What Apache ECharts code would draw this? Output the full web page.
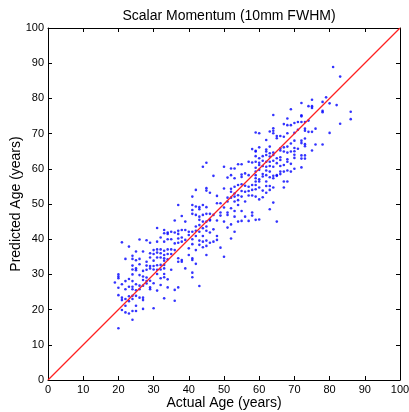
<!DOCTYPE html>
<html>
<head>
<meta charset="utf-8">
<script src="https://cdn.jsdelivr.net/npm/echarts@6/dist/echarts.min.js"></script>
<style>
  html, body { margin: 0; padding: 0; background: #fff; }
  #chart { width: 409px; height: 412px; }
</style>
</head>
<body>
<div id="chart"></div>
<script>
// [actual age, predicted age], grouped by actual age
const ages19to28 = [[21,39.1],[23,37.9],[26,39.9],[28,39.7],[25,36.5],[27,36.5],[24,35.3],[22,34.4],[24,34.4],[25,34.0],
    [26,34.4],[28,33.6],[24,32.5],[25,31.7],[26,32.9],[28,32.5],[24,31.4],[25,31.2],[27,31.0],[28,31.3],[20,30.0],[20,29.4],
    [20,28.9],[24,30.0],[26,29.8],[27,29.4],[28,29.1],[22,28.1],[23,28.7],[24,28.1],[25,27.2],[27,28.4],[28,28.1],[19,27.7],
    [21,27.2],[23,26.5],[24,26.5],[26,26.8],[27,26.8],[28,27.4],[20,26.2],[22,25.8],[24,25.8],[25,25.5],[26,25.8],[20,24.1],
    [21,23.4],[22,23.0],[23,23.8],[24,23.9],[25,23.9],[26,23.4],[27,23.4],[27,22.7],[21,22.7],[23,22.4],[24,23.0],[22,21.1],
    [25,21.1],[21,19.9],[22,19.2],[23,18.9],[24,19.6],[25,19.6],[27,20.2],[24,17.1],[20,14.7]];
const ages29to38 = [[37,49.7],[38,46.6],[36,45.3],[31,43.2],[33,42.6],[34,41.9],[35,42.1],[36,41.9],[37,42.4],[38,42.6],
    [33,41.7],[34,41.5],[37,41.5],[32,40.5],[34,40.0],[35,40.0],[37,40.2],[38,40.5],[29,39.0],[31,39.3],[33,39.3],[36,38.8],
    [37,39.0],[38,39.3],[30,36.9],[31,37.1],[32,37.1],[33,36.7],[34,37.1],[35,37.1],[36,36.9],[29,36.0],[30,35.8],[31,36.2],
    [32,36.0],[33,35.5],[34,35.8],[35,35.8],[29,34.8],[31,34.8],[32,34.8],[33,34.6],[34,34.3],[30,33.9],[33,33.9],[37,34.6],
    [38,34.1],[37,33.6],[38,33.6],[29,32.4],[30,32.4],[31,32.6],[32,32.7],[33,32.7],[29,31.7],[30,31.4],[31,31.3],[32,31.4],
    [33,31.7],[35,31.3],[31,30.1],[33,30.1],[32,28.9],[33,29.2],[34,28.6],[29,28.2],[30,27.5],[29,26.3],[29,25.8],[32,27.0],
    [31,25.4],[36,25.6],[37,26.3],[34,26.3],[33,23.2],[36,22.5],[30,20.4]];
const ages39to48 = [[45,61.7],[44,60.6],[47,58.0],[42,54.0],[45,54.5],[45,53.8],[46,53.2],[41,52.1],[48,52.3],[41,49.7],
    [42,49.3],[43,49.1],[43,48.5],[44,49.7],[45,49.1],[48,50.2],[41,48.3],[41,47.2],[42,46.9],[43,46.4],[44,46.9],[45,47.2],
    [46,47.2],[47,46.9],[39,45.0],[43,45.5],[44,45.0],[45,45.0],[46,45.6],[46,45.3],[48,45.3],[43,44.0],[45,43.6],[42,43.6],
    [44,43.1],[47,42.8],[39,42.6],[40,42.1],[41,42.1],[42,42.4],[43,42.1],[45,42.4],[46,41.9],[40,41.2],[42,40.9],[44,40.9],
    [48,40.9],[39,39.8],[41,40.0],[43,39.6],[44,39.3],[45,39.6],[46,39.0],[47,39.3],[48,39.8],[41,38.6],[43,38.4],[44,37.7],
    [45,38.1],[40,37.4],[42,36.9],[40,35.5],[41,34.6],[41,34.1],[45,35.5],[42,33.0],[39,31.7],[41,30.5],[41,29.2],[43,26.7]];
const ages49to59 = [[58,65.6],[59,65.1],[57,62.0],[58,61.8],[50,60.6],[52,60.1],[53,60.1],[54,61.3],[55,61.3],[51,57.5],
    [52,58.2],[53,57.3],[55,58.4],[55,57.7],[56,58.7],[57,58.2],[50,54.4],[52,54.3],[53,54.9],[54,55.4],[55,55.6],[56,55.2],
    [57,54.9],[58,55.4],[52,53.5],[53,53.0],[54,52.5],[55,53.7],[56,53.5],[57,53.7],[58,54.0],[51,51.8],[52,51.8],[53,52.1],
    [54,51.1],[55,52.1],[56,50.7],[57,52.4],[58,52.4],[49,50.2],[51,50.7],[53,50.7],[54,49.7],[50,49.0],[52,48.8],[49,47.6],
    [51,47.6],[53,48.0],[55,48.0],[58,47.6],[49,46.7],[51,46.9],[53,46.4],[56,46.4],[58,46.7],[57,45.2],[50,45.0],[52,44.2],
    [54,45.0],[55,45.2],[51,43.3],[53,42.1],[52,40.2],[49,37.6],[50,35.0],[59,60.3],[59,58.2],[59,52.1]];
const ages59to69 = [[69,76.9],[64,75.3],[68,74.3],[67,72.7],[68,72.4],[69,72.4],[64,71.5],[59,70.3],[60,70.1],[63,70.6],
    [64,70.8],[64,70.1],[65,69.3],[65,68.7],[66,69.3],[67,69.1],[68,70.1],[62,68.2],[60,66.1],[62,65.5],[63,66.3],[66,65.8],
    [67,66.1],[68,66.3],[69,67.2],[69,64.9],[59,64.9],[62,64.9],[63,64.4],[64,64.6],[66,65.2],[67,64.9],[68,64.6],[59,63.6],
    [60,63.0],[61,63.6],[62,63.9],[63,63.5],[64,63.9],[65,63.0],[66,63.3],[68,62.7],[59,62.0],[60,61.7],[61,62.3],[62,62.0],
    [63,62.0],[64,62.3],[65,61.6],[66,62.5],[68,62.0],[60,61.1],[61,60.8],[62,60.6],[63,60.8],[64,60.6],[66,60.8],[67,61.1],
    [69,61.4],[59,59.2],[60,59.7],[61,58.5],[62,59.5],[63,59.2],[64,58.0],[65,58.2],[66,59.2],[67,59.2],[68,59.5],[69,59.2],
    [59,57.3],[60,57.0],[61,57.8],[62,58.2],[63,57.6],[64,57.3],[65,58.0],[66,58.5],[59,56.4],[60,56.4],[62,56.4],[67,56.4],
    [68,56.4],[59,55.4],[60,54.7],[62,55.1],[63,55.1],[64,54.7],[67,54.7],[59,54.2],[61,53.8],[63,54.0],[62,53.2],[61,51.9],
    [60,51.3],[64,50.4],[63,48.5],[59,45.5],[60,45.6],[65,45.0]];
const ages70to86 = [[79,80.3],[75,79.6],[78,79.0],[72,78.7],[74,77.8],[75,77.8],[75,77.3],[78,76.5],[78,76.1],[72,75.2],
    [72,74.9],[70,73.0],[71,73.3],[72,73.3],[73,73.3],[74,73.7],[71,71.1],[73,71.4],[73,70.8],[76,71.4],[70,70.2],[74,70.5],
    [75,70.5],[73,68.6],[70,68.0],[72,68.0],[72,67.3],[73,67.0],[73,66.4],[76,66.9],[78,66.9],[71,65.7],[70,65.9],[75,65.2],
    [70,65.0],[70,64.0],[72,63.8],[73,63.8],[70,63.1],[72,62.9],[73,62.9],[72,60.4],[70,60.0],
    [81,88.9],[83,86.2],[80,78.6],[82,78.1],[86,76.2],[86,74.1],[83,72.8],[80,70.2]];
const identityLine = [[0,0],[100,100]];

const FONT = 'Liberation Sans, Arial, Helvetica, sans-serif';
const chart = echarts.init(document.getElementById('chart'));

function axis(extra) {
    return Object.assign({
        type: 'value',
        min: 0,
        max: 100,
        interval: 10,
        splitLine: { show: false },
        axisLine: { show: true, onZero: false, lineStyle: { color: '#000', width: 1 } },
        axisTick: { show: true, inside: true, length: 4, lineStyle: { color: '#000' } },
        axisLabel: { show: true, color: '#000', fontSize: 11, fontFamily: FONT, margin: 4 }
    }, extra);
}

chart.setOption({
    backgroundColor: '#fff',
    animation: false,
    title: {
        text: 'Scalar Momentum (10mm FWHM)',
        left: 224,
        top: 4,
        textAlign: 'center',
        textStyle: { fontSize: 14, fontWeight: 'normal', color: '#000', fontFamily: FONT }
    },
    grid: { left: 48, right: 9, top: 28, bottom: 32, containLabel: false, outerBoundsMode: 'none' },
    xAxis: [
        axis({
            position: 'bottom',
            name: 'Actual Age (years)',
            nameLocation: 'middle',
            nameGap: 16,
            nameMoveOverlap: false,
            nameTextStyle: { fontSize: 14, color: '#000', fontFamily: FONT }
        }),
        axis({ position: 'top', axisLabel: { show: false } })
    ],
    yAxis: [
        axis({
            position: 'left',
            name: 'Predicted Age (years)',
            nameLocation: 'middle',
            nameGap: 25,
            nameMoveOverlap: false,
            nameTextStyle: { fontSize: 14, color: '#000', fontFamily: FONT }
        }),
        axis({ position: 'right', axisLabel: { show: false } })
    ],
    series: [
        {
            type: 'scatter',
            data: [].concat(ages19to28, ages29to38, ages39to48, ages49to59, ages59to69, ages70to86),
            symbol: 'circle',
            symbolSize: 2.6,
            itemStyle: { color: '#0000ff' },
            z: 2
        },
        {
            type: 'line',
            data: identityLine,
            symbol: 'none',
            lineStyle: { color: '#ff2020', width: 1.2 },
            z: 3
        }
    ]
});
</script>
</body>
</html>
